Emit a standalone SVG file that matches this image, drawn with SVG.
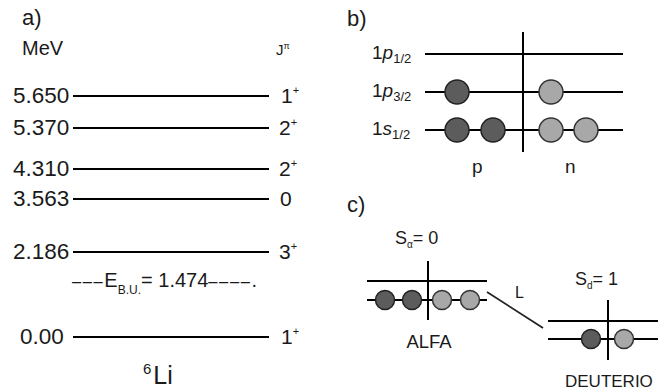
<svg xmlns="http://www.w3.org/2000/svg" width="658" height="392" viewBox="0 0 658 392">
<style>
text{font-family:"Liberation Sans",Arial,sans-serif;fill:#1a1a1a}
.lv{stroke:#000;stroke-width:2.2}
.ln{stroke:#000;stroke-width:2}
.dk{fill:#5c5c5c;stroke:#222;stroke-width:1.5}
.lt{fill:#a8a8a8;stroke:#333;stroke-width:1.5}
.big{font-size:22.5px}
.jp{font-size:21px}
.mid{font-size:19px}
.sub{font-size:13px}
.dash{font-size:16.5px;letter-spacing:1.6px}
</style>
<rect width="658" height="392" fill="#fff"/>
<g id="panel-a">
<text x="22" y="25" font-size="22">a)</text>
<text x="22" y="55" font-size="20">MeV</text>
<text x="276" y="55" font-size="15">J<tspan font-size="9" dy="-6">π</tspan></text>
<g id="lvl-5650"><line class="lv" x1="73" y1="96" x2="269" y2="96"/><text class="big" x="13" y="103">5.650</text><text class="jp" x="281" y="103">1<tspan font-size="11" dy="-9">+</tspan></text></g>
<g id="lvl-5370"><line class="lv" x1="73" y1="128" x2="269" y2="128"/><text class="big" x="13" y="135">5.370</text><text class="jp" x="279" y="135">2<tspan font-size="11" dy="-9">+</tspan></text></g>
<g id="lvl-4310"><line class="lv" x1="73" y1="169" x2="269" y2="169"/><text class="big" x="13" y="176">4.310</text><text class="jp" x="279" y="176">2<tspan font-size="11" dy="-9">+</tspan></text></g>
<g id="lvl-3563"><line class="lv" x1="73" y1="199" x2="269" y2="199"/><text class="big" x="13" y="206">3.563</text><text class="jp" x="280" y="206">0</text></g>
<g id="lvl-2186"><line class="lv" x1="73" y1="252" x2="269" y2="252"/><text class="big" x="13" y="259">2.186</text><text class="jp" x="279" y="259">3<tspan font-size="11" dy="-9">+</tspan></text></g>
<g id="ebu"><text x="72" y="287" font-size="20"><tspan class="dash">–––</tspan>E<tspan font-size="12" dy="7">B.U.</tspan><tspan dy="-7">= 1.474</tspan><tspan class="dash">––––</tspan>.</text></g>
<g id="lvl-000"><line class="lv" x1="73" y1="337" x2="269" y2="337"/><text class="big" x="20" y="344">0.00</text><text class="jp" x="281" y="344">1<tspan font-size="11" dy="-9">+</tspan></text></g>
<text x="143" y="384" font-size="25"><tspan font-size="15" dy="-10">6</tspan><tspan dy="10" dx="2">Li</tspan></text>
</g>
<g id="panel-b">
<text x="347" y="26" font-size="22">b)</text>
<line class="ln" x1="523" y1="32" x2="523" y2="152"/>
<g id="p12"><line class="ln" x1="425" y1="54" x2="623" y2="54"/><text class="mid" x="372" y="59">1<tspan font-style="italic">p</tspan><tspan class="sub" dy="4">1/2</tspan></text></g>
<g id="p32"><line class="ln" x1="425" y1="92" x2="623" y2="92"/><text class="mid" x="372" y="97">1<tspan font-style="italic">p</tspan><tspan class="sub" dy="4">3/2</tspan></text>
<circle class="dk" cx="457" cy="92" r="12"/><circle class="lt" cx="551" cy="92" r="12"/></g>
<g id="s12"><line class="ln" x1="425" y1="130" x2="623" y2="130"/><text class="mid" x="372" y="135">1<tspan font-style="italic">s</tspan><tspan class="sub" dy="4">1/2</tspan></text>
<circle class="dk" cx="457" cy="130" r="12"/><circle class="dk" cx="493" cy="130" r="12"/><circle class="lt" cx="551" cy="130" r="12"/><circle class="lt" cx="586" cy="130" r="12"/></g>
<text class="mid" x="472" y="173">p</text>
<text class="mid" x="565" y="173">n</text>
</g>
<g id="panel-c">
<text x="347" y="212" font-size="22">c)</text>
<g id="alfa">
<text font-size="18" x="395" y="244">S<tspan font-size="10" dy="4">α</tspan><tspan dy="-4">= 0</tspan></text>
<line class="ln" x1="428" y1="261" x2="428" y2="320"/>
<line class="ln" x1="367" y1="281" x2="487" y2="281"/>
<line class="ln" x1="367" y1="300" x2="487" y2="300"/>
<circle class="dk" cx="385" cy="300" r="9.5"/><circle class="dk" cx="412" cy="300" r="9.5"/><circle class="lt" cx="442" cy="300" r="9.5"/><circle class="lt" cx="470" cy="300" r="9.5"/>
<text font-size="18.5" x="429" y="348" text-anchor="middle">ALFA</text>
</g>
<g id="deuterio">
<text font-size="18" x="575" y="285">S<tspan font-size="10" dy="4">d</tspan><tspan dy="-4">= 1</tspan></text>
<line class="ln" x1="608" y1="300" x2="608" y2="360"/>
<line class="ln" x1="548" y1="321" x2="658" y2="321"/>
<line class="ln" x1="548" y1="339" x2="658" y2="339"/>
<circle class="dk" cx="591" cy="339" r="9.5"/><circle class="lt" cx="624" cy="339" r="9.5"/>
<text font-size="17" x="565" y="387">DEUTERIO</text>
</g>
</g>
<g id="connectors">
<line stroke="#222" stroke-width="1.8" x1="487" y1="292" x2="543" y2="328"/>
<text font-size="16" x="515" y="298">L</text>
</g>
</svg>
